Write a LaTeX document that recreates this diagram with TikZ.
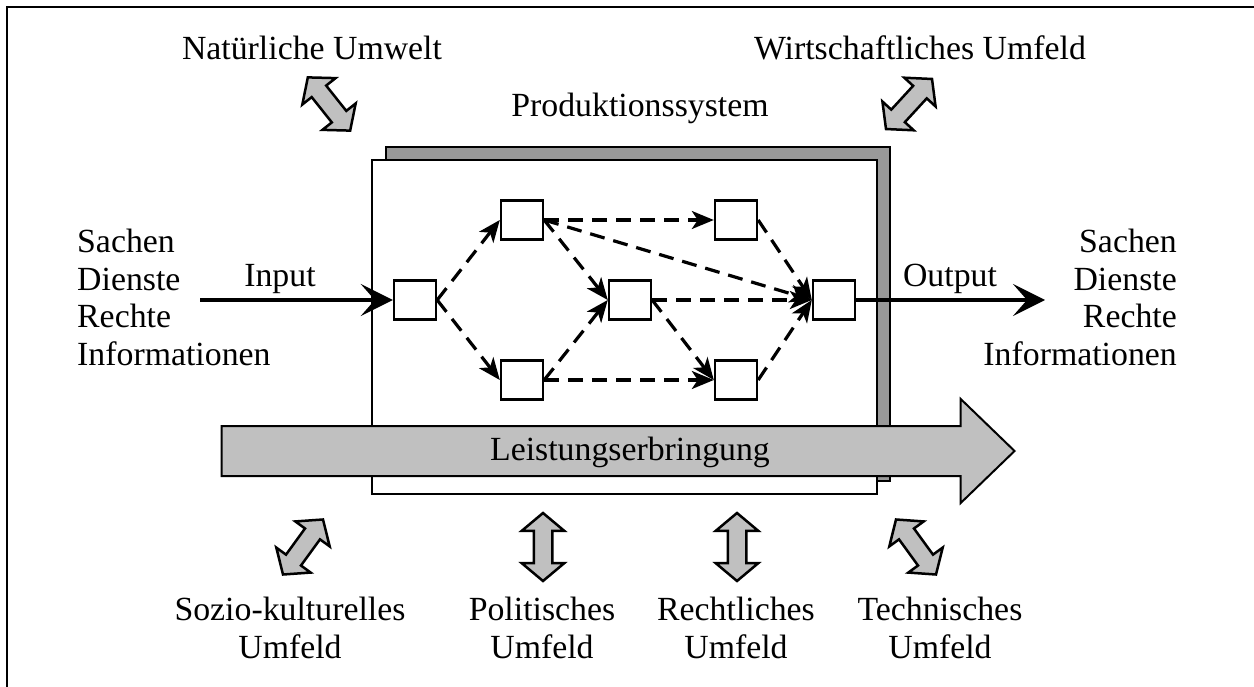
\documentclass[tikz,border=0pt]{standalone}
\usepackage{fontspec}
\setmainfont{Liberation Serif}
\usetikzlibrary{arrows.meta,shapes.arrows}
\definecolor{arrowgray}{HTML}{C0C0C0}
\definecolor{shadowgray}{HTML}{999999}
\begin{document}
\begin{tikzpicture}[x=1pt,y=-1pt,
  txt/.style={font=\fontsize{33.8}{37.5}\selectfont, inner sep=0pt},
  proc/.style={draw, line width=2.4pt, fill=white, minimum width=42pt,
    minimum height=39pt, inner sep=0pt},
  flow/.style={line width=3.2pt, dash pattern=on 15pt off 9pt,
    -{Stealth[length=22pt,width=18pt,inset=6pt]}},
  io/.style={line width=3.5pt, -{Stealth[length=32pt,width=32pt,inset=14pt]}},
  link/.style={double arrow, draw, fill=arrowgray, line width=2.5pt,
    inner xsep=0pt, inner ysep=8pt, minimum height=68pt,
    double arrow head extend=12pt, double arrow tip angle=100},
]
\useasboundingbox (0,0) rectangle (1254,687);

% page frame (top and left rule)
\draw[line width=2.5pt] (7,687) -- (7,7) -- (1254,7);

% production system with its shadow
\draw[line width=2pt, fill=shadowgray] (386,147) rectangle (890,481);
\draw[line width=2pt, fill=white] (372,160) rectangle (877,494);
\node[txt, anchor=base] (prodsys) at (640,117) {Produktionssystem};

% process steps
\node[proc] (a) at (415,300) {};
\node[proc] (b) at (522,220) {};
\node[proc] (c) at (522,380) {};
\node[proc] (d) at (630,300) {};
\node[proc] (e) at (736,220) {};
\node[proc] (f) at (736,380) {};
\node[proc] (g) at (834,300) {};

\draw[flow] (a.east) -- (b.west);
\draw[flow] (a.east) -- (c.west);
\draw[flow] (b.east) -- (e.west);
\draw[flow] (b.east) -- (g.west);
\draw[flow] (b.east) -- (d.west);
\draw[flow] (c.east) -- (d.west);
\draw[flow] (c.east) -- (f.west);
\draw[flow] (d.east) -- (g.west);
\draw[flow] (d.east) -- (f.west);
\draw[flow] (e.east) -- (g.west);
\draw[flow] (f.east) -- (g.west);

% input and output
\coordinate (inStart) at (200,300);
\coordinate (outEnd) at (1045,300);
\draw[io] (inStart) -- (a.west);
\draw[io] (g.east) -- (outEnd);
\node[txt, anchor=base] (inlbl) at (280,287) {Input};
\node[txt, anchor=base] (outlbl) at (950,287) {Output};
\node[txt, align=left, anchor=north west] (inlist) at (77,229)
  {Sachen\\Dienste\\Rechte\\Informationen};
\node[txt, align=right, anchor=north east] (outlist) at (1177,229)
  {Sachen\\Dienste\\Rechte\\Informationen};

% service delivery arrow
\node[single arrow, draw, fill=arrowgray, line width=2pt, minimum height=793pt,
  inner xsep=0pt, inner ysep=24pt, single arrow head extend=27pt,
  single arrow tip angle=88, anchor=tip] (leistarrow) at (1016,451) {};
\node[txt] (leist) at (630,452) {Leistungserbringung};

% environments
\node[txt, anchor=base] (natur) at (312,60) {Natürliche Umwelt};
\node[txt, anchor=base] (wirt) at (920,60) {Wirtschaftliches Umfeld};
\node[link, rotate=-51.5] (lnatur) at (329,104) {};
\node[link, rotate=47.4] (lwirt) at (909,104) {};

\node[link, rotate=54] (lsozio) at (303,547) {};
\node[link, rotate=90] (lpol) at (543,547) {};
\node[link, rotate=90] (lrecht) at (737,547) {};
\node[link, rotate=-54] (ltech) at (916,547) {};

\node[txt, align=center, anchor=north] (sozio) at (290,597) {Sozio-kulturelles\\Umfeld};
\node[txt, align=center, anchor=north] (pol) at (542,597) {Politisches\\Umfeld};
\node[txt, align=center, anchor=north] (recht) at (736,597) {Rechtliches\\Umfeld};
\node[txt, align=center, anchor=north] (tech) at (940,597) {Technisches\\Umfeld};
\end{tikzpicture}
\end{document}
